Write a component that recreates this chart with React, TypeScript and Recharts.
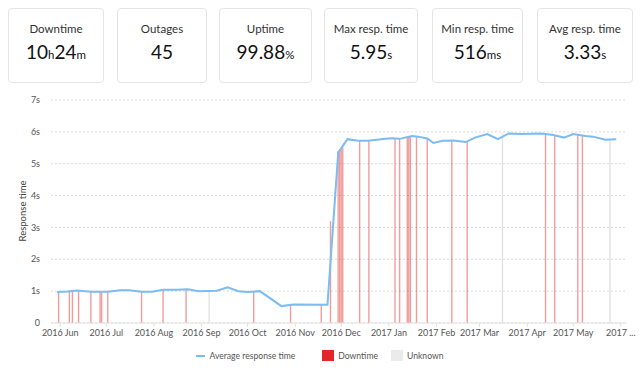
import { ComposedChart, Line, Bar, Cell, XAxis, YAxis, CartesianGrid } from "recharts";

const FONT = "Lato, 'Open Sans', sans-serif";

const lineDates = [
  "2016-05-30", "2016-06-06", "2016-06-12", "2016-06-21", "2016-07-02", "2016-07-10",
  "2016-07-16", "2016-07-24", "2016-07-31", "2016-08-07", "2016-08-16", "2016-08-23",
  "2016-08-30", "2016-09-11", "2016-09-18", "2016-09-25", "2016-10-01", "2016-10-09",
  "2016-10-23", "2016-10-31", "2016-11-22", "2016-11-29", "2016-12-05", "2016-12-12",
  "2016-12-18", "2017-01-02", "2017-01-08", "2017-01-16", "2017-01-20", "2017-01-26",
  "2017-01-30", "2017-02-05", "2017-02-12", "2017-02-20", "2017-02-26", "2017-03-06",
  "2017-03-13", "2017-03-20", "2017-03-28", "2017-04-10", "2017-04-18", "2017-04-25",
  "2017-05-01", "2017-05-09", "2017-05-14", "2017-05-22", "2017-05-29",
];
const lineValues = [
  0.97, 0.99, 1.02, 0.98, 0.98, 1.03,
  1.03, 0.98, 0.98, 1.04, 1.04, 1.06,
  1.0, 1.01, 1.12, 1.0, 0.97, 1.0,
  0.53, 0.58, 0.57, 5.35, 5.77, 5.72,
  5.72, 5.8, 5.78, 5.87, 5.85, 5.79,
  5.65, 5.72, 5.73, 5.68, 5.82, 5.93,
  5.77, 5.95, 5.93, 5.95, 5.9, 5.82,
  5.93, 5.87, 5.85, 5.75, 5.77,
];

const downDates = [
  "2016-05-31", "2016-06-07", "2016-06-09", "2016-06-13", "2016-06-21", "2016-06-27",
  "2016-06-28", "2016-07-02", "2016-07-24", "2016-08-07", "2016-08-22", "2016-10-05",
  "2016-10-29", "2016-11-18", "2016-11-24", "2016-11-29", "2016-11-30", "2016-12-01",
  "2016-12-02", "2016-12-13", "2016-12-19", "2017-01-05", "2017-01-08", "2017-01-13",
  "2017-01-14", "2017-01-15", "2017-01-19", "2017-01-26", "2017-02-11", "2017-02-21",
  "2017-04-13", "2017-04-19", "2017-05-04", "2017-05-07",
];
const downValues = [
  0.97, 0.99, 1.0, 1.02, 0.98, 0.98,
  0.98, 0.97, 0.98, 1.04, 1.06, 0.98,
  0.57, 0.57, 3.2, 5.4, 5.45, 5.45,
  5.5, 5.72, 5.72, 5.8, 5.78, 5.85,
  5.86, 5.87, 5.85, 5.79, 5.73, 5.68,
  5.92, 5.88, 5.9, 5.88,
];

const unknownDates = ["2016-09-06", "2017-03-16", "2017-05-25"];
const unknownValues = [1.0, 5.95, 5.76];

const tickDates = [
  "2016-06-01", "2016-07-01", "2016-08-01", "2016-09-01", "2016-10-01", "2016-11-01",
  "2016-12-01", "2017-01-01", "2017-02-01", "2017-03-01", "2017-04-01", "2017-05-01",
  "2017-06-01",
];
const tickLabels = [
  "2016 Jun", "2016 Jul", "2016 Aug", "2016 Sep", "2016 Oct", "2016 Nov",
  "2016 Dec", "2017 Jan", "2017 Feb", "2017 Mar", "2017 Apr", "2017 May",
  "2017 ...",
];

const yTicks = [0, 1, 2, 3, 4, 5, 6, 7];

const stats = [
  { title: "Downtime", parts: [["10", false], ["h", true], ["24", false], ["m", true]] },
  { title: "Outages", parts: [["45", false]] },
  { title: "Uptime", parts: [["99.88", false], ["%", true]] },
  { title: "Max resp. time", parts: [["5.95", false], ["s", true]] },
  { title: "Min resp. time", parts: [["516", false], ["ms", true]] },
  { title: "Avg resp. time", parts: [["3.33", false], ["s", true]] },
];
const boxes = [
  [8, 96], [117, 90], [219, 93], [324, 94], [432, 91], [537, 96],
];

const ts = (d: string) => Date.parse(d + "T00:00:00Z");

const data = [
  ...lineDates.map((d, i) => ({ t: ts(d), avg: lineValues[i] })),
  ...downDates.map((d, i) => ({ t: ts(d), bar: downValues[i], kind: "down" })),
  ...unknownDates.map((d, i) => ({ t: ts(d), bar: unknownValues[i], kind: "unknown" })),
].sort((a, b) => a.t - b.t);

const ticks = tickDates.map(ts);

function StatBox({ i }: { i: number }) {
  const s = stats[i];
  const [left, width] = boxes[i];
  return (
    <div
      style={{
        position: "absolute",
        left,
        top: 8,
        width,
        height: 75,
        boxSizing: "border-box",
        border: "1px solid #e4e4e4",
        borderRadius: 4,
        textAlign: "center",
        fontFamily: FONT,
      }}
    >
      <div style={{ position: "absolute", top: 13, width: "100%", fontSize: 11.5, color: "#333" }}>
        {s.title}
      </div>
      <div style={{ position: "absolute", top: 31, width: "100%", fontSize: 19, color: "#111" }}>
        {s.parts.map(([txt, small], k) => (
          <span key={k} style={small ? { fontSize: 11.5 } : undefined}>
            {txt}
          </span>
        ))}
      </div>
    </div>
  );
}

export default function App() {
  return (
    <div style={{ position: "absolute", left: 0, top: 0, width: 640, height: 368, background: "#fff" }}>
      {stats.map((_, i) => (
        <StatBox key={i} i={i} />
      ))}
      <div style={{ position: "absolute", left: 0, top: 0 }}>
        <ComposedChart
          width={640}
          height={350}
          data={data}
          margin={{ top: 100, right: 13, bottom: 7, left: 0 }}
        >
          <CartesianGrid vertical={false} stroke="#dcdcdc" strokeDasharray="2 2" />
          <XAxis
            dataKey="t"
            type="number"
            scale="linear"
            domain={[ts("2016-05-26"), ts("2017-06-05")]}
            ticks={ticks}
            interval={0}
            tickFormatter={(v: number) => tickLabels[ticks.indexOf(v)] ?? ""}
            tick={{ fontSize: 9, fill: "#555", fontFamily: FONT }}
            tickSize={4}
            tickMargin={3}
            stroke="#e3e3e3"
            height={20}
            allowDataOverflow
          />
          <YAxis
            type="number"
            domain={[0, 7]}
            ticks={yTicks}
            tickFormatter={(v: number) => (v === 0 ? "0" : `${v}s`)}
            tick={{ fontSize: 9, fill: "#555", fontFamily: FONT }}
            axisLine={false}
            tickLine={false}
            tickSize={0}
            tickMargin={11}
            width={51}
            label={{
              content: () => (
                <text
                  x={22}
                  y={211}
                  transform="rotate(-90 22 211)"
                  textAnchor="middle"
                  dominantBaseline="central"
                  fontSize={9.5}
                  fill="#444"
                  fontFamily={FONT}
                >
                  Response time
                </text>
              ),
            }}
          />
          <Bar dataKey="bar" barSize={2} isAnimationActive={false}>
            {data.map((d, i) => (
              <Cell
                key={i}
                fill={d.kind === "unknown" ? "#e2e2e2" : "#e53935"}
                fillOpacity={d.kind === "unknown" ? 1 : 0.5}
              />
            ))}
          </Bar>
          <Line
            dataKey="avg"
            type="linear"
            stroke="#7bbcf2"
            strokeWidth={2}
            dot={false}
            activeDot={false}
            connectNulls
            isAnimationActive={false}
          />
        </ComposedChart>
      </div>
      <div
        style={{
          position: "absolute",
          top: 350,
          left: 0,
          width: 640,
          display: "flex",
          justifyContent: "center",
          alignItems: "center",
          fontFamily: FONT,
          fontSize: 8.6,
          color: "#555",
        }}
      >
        <span style={{ display: "inline-block", width: 9, height: 2, background: "#7bbcf2", marginRight: 4 }} />
        <span style={{ marginRight: 27 }}>Average response time</span>
        <span style={{ display: "inline-block", width: 12, height: 11, background: "#e3262b", marginRight: 4 }} />
        <span style={{ marginRight: 13 }}>Downtime</span>
        <span style={{ display: "inline-block", width: 12, height: 11, background: "#ebebeb", marginRight: 4 }} />
        <span>Unknown</span>
      </div>
    </div>
  );
}
